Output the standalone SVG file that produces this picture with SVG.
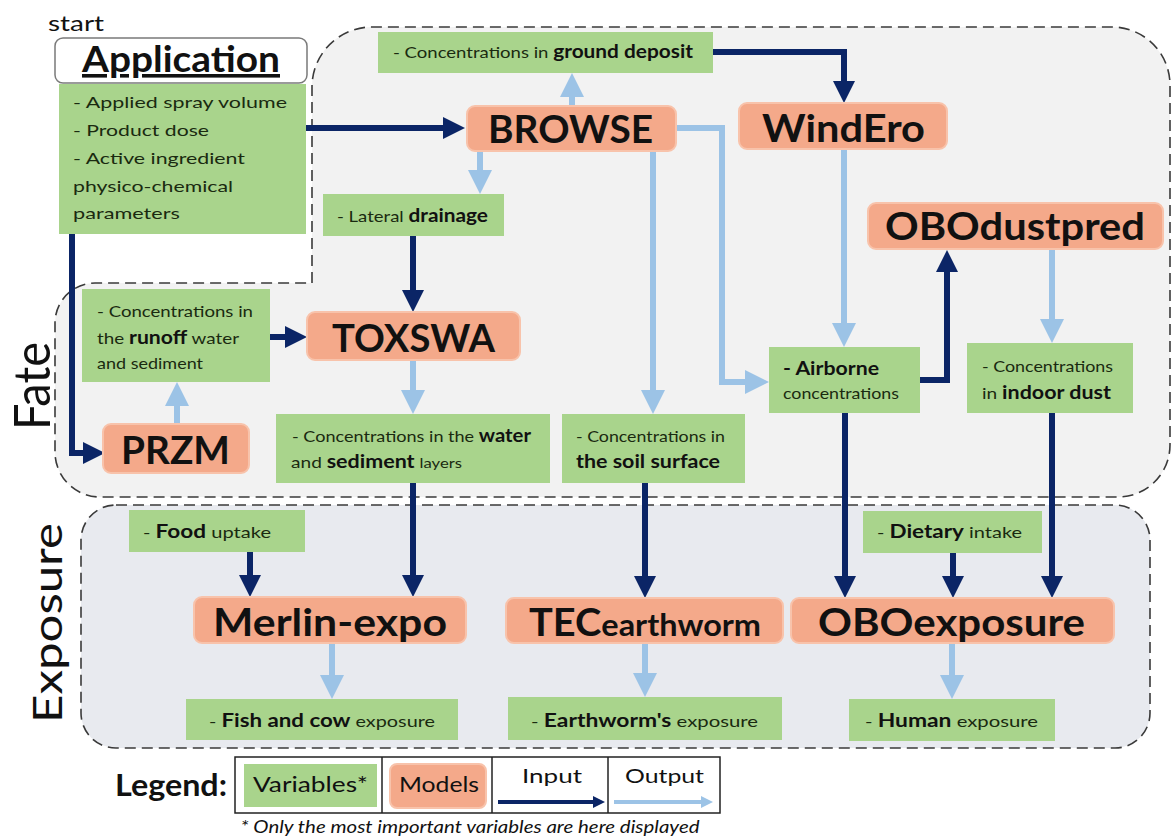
<svg xmlns="http://www.w3.org/2000/svg" width="1172" height="838" viewBox="0 0 1172 838">
<defs>
<style>
text{font-family:Lato,"Liberation Sans",sans-serif;fill:#111}
.var{fill:#a9d48c}
.mod{fill:#f4a98a;stroke:#f8c3ab;stroke-width:2}
.mt{font-weight:700;font-size:38px;text-anchor:start}
.vt{font-size:16px;fill:#1a2a10}
.b{font-weight:700;font-size:18px;fill:#111}
.in{fill:none;stroke:#0b2566;stroke-width:6;stroke-linejoin:miter}
.out{fill:none;stroke:#9cc3e6;stroke-width:6;stroke-linejoin:miter}
.region{stroke:#3a3a3a;stroke-width:1.6;stroke-dasharray:11 6}
</style>
<marker id="hi" markerUnits="userSpaceOnUse" markerWidth="22" markerHeight="22" viewBox="0 0 22 22" refX="10" refY="11" orient="auto"><path d="M0,0 L22,11 L0,22 z" fill="#0b2566"/></marker>
<marker id="ho" markerUnits="userSpaceOnUse" markerWidth="24" markerHeight="24" viewBox="0 0 24 24" refX="11" refY="12" orient="auto"><path d="M0,0 L24,12 L0,24 z" fill="#9cc3e6"/></marker>
<marker id="hiS" markerUnits="userSpaceOnUse" markerWidth="12" markerHeight="12" viewBox="0 0 12 12" refX="4" refY="6" orient="auto"><path d="M0,0 L12,6 L0,12 z" fill="#0b2566"/></marker>
<marker id="hoS" markerUnits="userSpaceOnUse" markerWidth="12" markerHeight="12" viewBox="0 0 12 12" refX="4" refY="6" orient="auto"><path d="M0,0 L12,6 L0,12 z" fill="#9cc3e6"/></marker>
</defs>
<rect width="1172" height="838" fill="#ffffff"/>

<!-- regions -->
<g id="fate-region">
<path class="region" fill="#f2f2f2" d="M312,283 V87 A60,60 0 0 1 372,27 H1112 A58,58 0 0 1 1170,85 V445 A52,52 0 0 1 1118,497 H100 A45,45 0 0 1 55,452 V323 A40,40 0 0 1 95,283 Z"/>
<text transform="translate(50,386) rotate(-90)" font-size="50" text-anchor="middle" textLength="88" lengthAdjust="spacingAndGlyphs">Fate</text>
</g>
<g id="exposure-region">
<rect class="region" fill="#e8eaef" x="81" y="505" width="1069" height="243" rx="35"/>
<text transform="translate(62,623) rotate(-90)" font-size="40" text-anchor="middle" textLength="200" lengthAdjust="spacingAndGlyphs">Exposure</text>
</g>

<text x="48" y="31" font-size="21" textLength="56" lengthAdjust="spacingAndGlyphs">start</text>

<!-- connectors -->
<g id="connectors">
<path class="in" marker-end="url(#hi)" d="M305,128 H453"/>
<path class="in" marker-end="url(#hi)" d="M72,229 V453 H93"/>
<path class="out" marker-end="url(#ho)" d="M572,107 V86"/>
<path class="in" marker-end="url(#hi)" d="M713,52 H844 V91"/>
<path class="out" marker-end="url(#ho)" d="M480,151 V181"/>
<path class="in" marker-end="url(#hi)" d="M413,236 V300"/>
<path class="in" marker-end="url(#hi)" d="M270,337 H295"/>
<path class="out" marker-end="url(#ho)" d="M177,424 V395"/>
<path class="out" marker-end="url(#ho)" d="M413,360 V401"/>
<path class="out" marker-end="url(#ho)" d="M653,151 V401"/>
<path class="out" marker-end="url(#ho)" d="M676,128 H722 V382 H756"/>
<path class="out" marker-end="url(#ho)" d="M844,149 V334"/>
<path class="in" marker-end="url(#hi)" d="M920,380 H947 V262"/>
<path class="out" marker-end="url(#ho)" d="M1052,249 V330"/>
<path class="in" marker-end="url(#hi)" d="M413,483 V585"/>
<path class="in" marker-end="url(#hi)" d="M645,483 V586"/>
<path class="in" marker-end="url(#hi)" d="M845,413 V586"/>
<path class="in" marker-end="url(#hi)" d="M1052,413 V586"/>
<path class="in" marker-end="url(#hi)" d="M953,553 V586"/>
<path class="in" marker-end="url(#hi)" d="M250,552 V585"/>
<path class="out" marker-end="url(#ho)" d="M332,643 V686"/>
<path class="out" marker-end="url(#ho)" d="M645,643 V684"/>
<path class="out" marker-end="url(#ho)" d="M952,643 V686"/>
</g>

<!-- Application -->
<g id="application">
<rect x="55" y="38" width="252" height="45" rx="8" fill="#ffffff" stroke="#7a7a7a" stroke-width="1.5"/>
<text x="82" y="72" font-size="36" font-weight="700" text-decoration="underline" textLength="198" lengthAdjust="spacingAndGlyphs">Application</text>
</g>
<g id="app-vars">
<rect class="var" x="59" y="84" width="247" height="150"/>
<text class="vt" x="73" y="108" font-size="18" textLength="214" lengthAdjust="spacingAndGlyphs">- Applied spray volume</text>
<text class="vt" x="73" y="136" font-size="18" textLength="136" lengthAdjust="spacingAndGlyphs">- Product dose</text>
<text class="vt" x="73" y="164" font-size="18" textLength="172" lengthAdjust="spacingAndGlyphs">- Active ingredient</text>
<text class="vt" x="73" y="192" font-size="18" textLength="160" lengthAdjust="spacingAndGlyphs">physico-chemical</text>
<text class="vt" x="73" y="219" font-size="18" textLength="107" lengthAdjust="spacingAndGlyphs">parameters</text>
</g>

<!-- Models -->
<g id="browse"><rect class="mod" x="467" y="106" width="209" height="45" rx="8"/><text class="mt" x="488" y="143" textLength="165" lengthAdjust="spacingAndGlyphs">BROWSE</text></g>
<g id="windero"><rect class="mod" x="739" y="103" width="208" height="46" rx="8"/><text class="mt" x="762" y="142" textLength="163" lengthAdjust="spacingAndGlyphs">WindEro</text></g>
<g id="obodustpred"><rect class="mod" x="868" y="203" width="295" height="46" rx="8"/><text class="mt" x="885" y="240" textLength="260" lengthAdjust="spacingAndGlyphs">OBOdustpred</text></g>
<g id="toxswa"><rect class="mod" x="307" y="312" width="213" height="48" rx="8"/><text class="mt" x="332" y="352" textLength="163" lengthAdjust="spacingAndGlyphs">TOXSWA</text></g>
<g id="przm"><rect class="mod" x="103" y="424" width="146" height="49" rx="8"/><text class="mt" x="121" y="464" textLength="109" lengthAdjust="spacingAndGlyphs">PRZM</text></g>
<g id="merlin"><rect class="mod" x="194" y="597" width="272" height="46" rx="8"/><text class="mt" x="213" y="636" textLength="234" lengthAdjust="spacingAndGlyphs">Merlin-expo</text></g>
<g id="tec"><rect class="mod" x="506" y="598" width="277" height="45" rx="8"/><text class="mt" x="529" y="636" textLength="232" lengthAdjust="spacingAndGlyphs">TEC<tspan font-size="31">earthworm</tspan></text></g>
<g id="oboexposure"><rect class="mod" x="791" y="598" width="323" height="45" rx="8"/><text class="mt" x="818" y="636" textLength="267" lengthAdjust="spacingAndGlyphs">OBOexposure</text></g>

<!-- Variables -->
<g id="ground-deposit"><rect class="var" x="378" y="32" width="335" height="41"/><text class="vt" x="393" y="58" textLength="300" lengthAdjust="spacingAndGlyphs">- Concentrations in <tspan class="b">ground deposit</tspan></text></g>
<g id="drainage"><rect class="var" x="323" y="194" width="181" height="42"/><text class="vt" x="337" y="222" textLength="151" lengthAdjust="spacingAndGlyphs">- Lateral <tspan class="b">drainage</tspan></text></g>
<g id="runoff"><rect class="var" x="82" y="289" width="188" height="93"/>
<text class="vt" x="97" y="317" textLength="156" lengthAdjust="spacingAndGlyphs">- Concentrations in</text>
<text class="vt" x="97" y="344" textLength="142" lengthAdjust="spacingAndGlyphs">the <tspan class="b">runoff</tspan> water</text>
<text class="vt" x="97" y="369" textLength="106" lengthAdjust="spacingAndGlyphs">and sediment</text></g>
<g id="water-sediment"><rect class="var" x="276" y="414" width="274" height="69"/>
<text class="vt" x="292" y="442" textLength="239" lengthAdjust="spacingAndGlyphs">- Concentrations in the <tspan class="b">water</tspan></text>
<text class="vt" x="291" y="468" textLength="171" lengthAdjust="spacingAndGlyphs">and <tspan class="b">sediment</tspan> <tspan font-size="14">layers</tspan></text></g>
<g id="soil-surface"><rect class="var" x="562" y="414" width="183" height="69"/>
<text class="vt" x="576" y="442" textLength="149" lengthAdjust="spacingAndGlyphs">- Concentrations in</text>
<text class="b" x="576" y="468" textLength="144" lengthAdjust="spacingAndGlyphs">the soil surface</text></g>
<g id="airborne"><rect class="var" x="769" y="347" width="151" height="66"/>
<text class="b" x="783" y="375" textLength="96" lengthAdjust="spacingAndGlyphs">- Airborne</text>
<text class="vt" x="783" y="399" textLength="116" lengthAdjust="spacingAndGlyphs">concentrations</text></g>
<g id="indoor-dust"><rect class="var" x="967" y="343" width="166" height="70"/>
<text class="vt" x="982" y="372" textLength="131" lengthAdjust="spacingAndGlyphs">- Concentrations</text>
<text class="vt" x="982" y="399" textLength="129" lengthAdjust="spacingAndGlyphs">in <tspan class="b">indoor dust</tspan></text></g>
<g id="food-uptake"><rect class="var" x="129" y="510" width="176" height="42"/><text class="vt" x="143" y="538" textLength="128" lengthAdjust="spacingAndGlyphs">- <tspan class="b">Food</tspan> uptake</text></g>
<g id="dietary-intake"><rect class="var" x="863" y="511" width="179" height="42"/><text class="vt" x="877" y="538" textLength="145" lengthAdjust="spacingAndGlyphs">- <tspan class="b">Dietary</tspan> intake</text></g>
<g id="fish-cow"><rect class="var" x="186" y="699" width="272" height="41"/><text class="vt" x="209" y="727" textLength="226" lengthAdjust="spacingAndGlyphs">- <tspan class="b">Fish and cow</tspan> exposure</text></g>
<g id="earthworm-exp"><rect class="var" x="508" y="697" width="274" height="43"/><text class="vt" x="531" y="727" textLength="227" lengthAdjust="spacingAndGlyphs">- <tspan class="b">Earthworm's</tspan> exposure</text></g>
<g id="human-exp"><rect class="var" x="849" y="699" width="206" height="42"/><text class="vt" x="865" y="727" textLength="173" lengthAdjust="spacingAndGlyphs">- <tspan class="b">Human</tspan> exposure</text></g>

<!-- Legend -->
<g id="legend">
<text x="115" y="796" font-size="30" font-weight="700" textLength="112" lengthAdjust="spacingAndGlyphs">Legend:</text>
<rect x="235" y="757" width="485" height="56" fill="#ffffff" stroke="#222" stroke-width="1.5"/>
<line x1="382" y1="757" x2="382" y2="813" stroke="#222" stroke-width="1.5"/>
<line x1="492" y1="757" x2="492" y2="813" stroke="#222" stroke-width="1.5"/>
<line x1="608" y1="757" x2="608" y2="813" stroke="#222" stroke-width="1.5"/>
<rect class="var" x="244" y="764" width="133" height="43"/>
<text x="253" y="792" font-size="21" textLength="115" lengthAdjust="spacingAndGlyphs">Variables*</text>
<rect class="mod" x="390" y="764" width="96" height="44" rx="7"/>
<text x="399" y="792" font-size="21" textLength="80" lengthAdjust="spacingAndGlyphs">Models</text>
<text x="522" y="783" font-size="20" textLength="60" lengthAdjust="spacingAndGlyphs">Input</text>
<path d="M498,802 H597" stroke="#0b2566" stroke-width="4" fill="none" marker-end="url(#hiS)"/>
<text x="625" y="783" font-size="20" textLength="79" lengthAdjust="spacingAndGlyphs">Output</text>
<path d="M614,802 H705" stroke="#9cc3e6" stroke-width="4" fill="none" marker-end="url(#hoS)"/>
<text x="470" y="833" font-size="17" font-style="italic" text-anchor="middle" textLength="459" lengthAdjust="spacingAndGlyphs">* Only the most important variables are here displayed</text>
</g>
</svg>
